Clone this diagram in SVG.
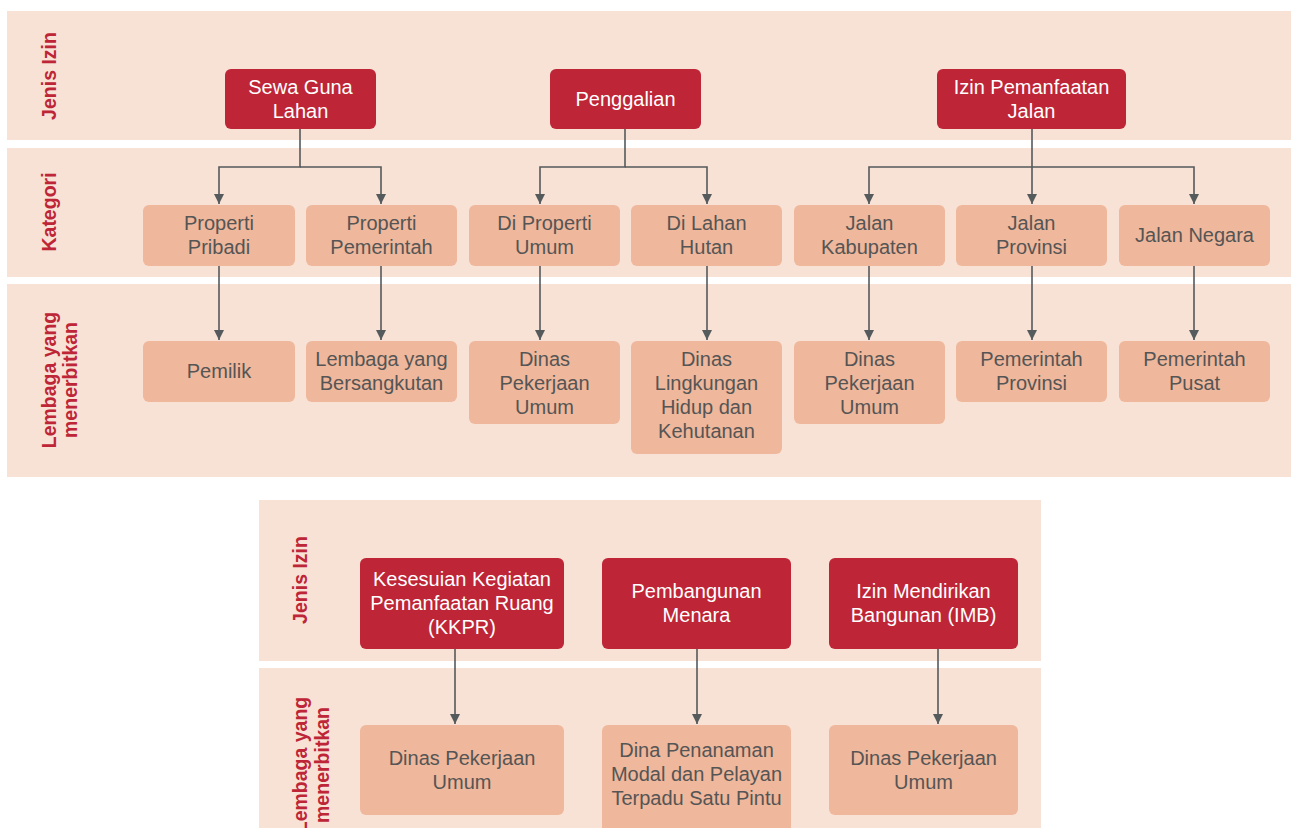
<svg xmlns="http://www.w3.org/2000/svg" width="1291" height="828" viewBox="0 0 1291 828">
<style>
.band{fill:#F7E2D5}
.red rect{fill:#BE2537}
.red text{fill:#FFFFFF}
.light rect{fill:#EFB79B}
.light text{fill:#555555}
text{font-family:"Liberation Sans",Arial,sans-serif;font-size:20px;text-anchor:middle}
.lbl{fill:#BE2537;font-weight:bold;font-size:19.5px}
.conn{fill:none;stroke:#555A5C;stroke-width:1.6}
</style>
<defs>
<marker id="arr" markerUnits="userSpaceOnUse" markerWidth="11" markerHeight="10" refX="10" refY="5" orient="auto" viewBox="0 0 10 10">
<path d="M0,0 L10,5 L0,10 z" fill="#555A5C"/>
</marker>
</defs>
<rect width="1291" height="828" fill="#FFFFFF"/>
<g id="bands">
<rect class="band" x="7" y="11" width="1284" height="129"/>
<rect class="band" x="7" y="148" width="1284" height="129"/>
<rect class="band" x="7" y="284" width="1284" height="193"/>
<rect class="band" x="259" y="500" width="782" height="161"/>
<rect class="band" x="259" y="668" width="782" height="200"/>
</g>
<g id="labels">
<text class="lbl" transform="translate(56,76) rotate(-90)">Jenis Izin</text>
<text class="lbl" transform="translate(56,212) rotate(-90)">Kategori</text>
<text class="lbl" transform="translate(56,380) rotate(-90)">Lembaga yang</text>
<text class="lbl" transform="translate(77,380) rotate(-90)">menerbitkan</text>
<text class="lbl" transform="translate(307,580) rotate(-90)">Jenis Izin</text>
<text class="lbl" transform="translate(307,765) rotate(-90)">Lembaga yang</text>
<text class="lbl" transform="translate(329,765) rotate(-90)">menerbitkan</text>
</g>
<g id="connectors">
<path class="conn" d="M300,129 V167 H219 V204" marker-end="url(#arr)"/>
<path class="conn" d="M300,167 H381 V204" marker-end="url(#arr)"/>
<path class="conn" d="M625,129 V167 H540 V204" marker-end="url(#arr)"/>
<path class="conn" d="M625,167 H707 V204" marker-end="url(#arr)"/>
<path class="conn" d="M1032,129 V204" marker-end="url(#arr)"/>
<path class="conn" d="M1032,167 H869 V204" marker-end="url(#arr)"/>
<path class="conn" d="M1032,167 H1194 V204" marker-end="url(#arr)"/>
<path class="conn" d="M219,266 V340" marker-end="url(#arr)"/>
<path class="conn" d="M381,266 V340" marker-end="url(#arr)"/>
<path class="conn" d="M540,266 V340" marker-end="url(#arr)"/>
<path class="conn" d="M707,266 V340" marker-end="url(#arr)"/>
<path class="conn" d="M869,266 V340" marker-end="url(#arr)"/>
<path class="conn" d="M1032,266 V340" marker-end="url(#arr)"/>
<path class="conn" d="M1194,266 V340" marker-end="url(#arr)"/>
<path class="conn" d="M455,649 V724" marker-end="url(#arr)"/>
<path class="conn" d="M697,649 V724" marker-end="url(#arr)"/>
<path class="conn" d="M938,649 V724" marker-end="url(#arr)"/>
</g>
<g id="n-sewa" class="red"><rect x="225" y="69" width="151" height="60" rx="6"/><text x="300.5" y="94">Sewa Guna</text><text x="300.5" y="118">Lahan</text></g>
<g id="n-penggalian" class="red"><rect x="550" y="69" width="151" height="60" rx="6"/><text x="625.5" y="106">Penggalian</text></g>
<g id="n-ipj" class="red"><rect x="937" y="69" width="189" height="60" rx="6"/><text x="1031.5" y="94">Izin Pemanfaatan</text><text x="1031.5" y="118">Jalan</text></g>

<g id="n-pribadi" class="light"><rect x="143" y="205" width="152" height="61" rx="6"/><text x="219" y="230">Properti</text><text x="219" y="254">Pribadi</text></g>
<g id="n-pemerintah" class="light"><rect x="306" y="205" width="151" height="61" rx="6"/><text x="381.5" y="230">Properti</text><text x="381.5" y="254">Pemerintah</text></g>
<g id="n-diprop" class="light"><rect x="469" y="205" width="151" height="61" rx="6"/><text x="544.5" y="230">Di Properti</text><text x="544.5" y="254">Umum</text></g>
<g id="n-dilahan" class="light"><rect x="631" y="205" width="151" height="61" rx="6"/><text x="706.5" y="230">Di Lahan</text><text x="706.5" y="254">Hutan</text></g>
<g id="n-jkab" class="light"><rect x="794" y="205" width="151" height="61" rx="6"/><text x="869.5" y="230">Jalan</text><text x="869.5" y="254">Kabupaten</text></g>
<g id="n-jprov" class="light"><rect x="956" y="205" width="151" height="61" rx="6"/><text x="1031.5" y="230">Jalan</text><text x="1031.5" y="254">Provinsi</text></g>
<g id="n-jneg" class="light"><rect x="1119" y="205" width="151" height="61" rx="6"/><text x="1194.5" y="242">Jalan Negara</text></g>

<g id="n-pemilik" class="light"><rect x="143" y="341" width="152" height="61" rx="6"/><text x="219" y="378">Pemilik</text></g>
<g id="n-lembaga" class="light"><rect x="306" y="341" width="151" height="61" rx="6"/><text x="381.5" y="366">Lembaga yang</text><text x="381.5" y="390">Bersangkutan</text></g>
<g id="n-dpu1" class="light"><rect x="469" y="341" width="151" height="83" rx="6"/><text x="544.5" y="366">Dinas</text><text x="544.5" y="390">Pekerjaan</text><text x="544.5" y="414">Umum</text></g>
<g id="n-dlhk" class="light"><rect x="631" y="341" width="151" height="113" rx="6"/><text x="706.5" y="366">Dinas</text><text x="706.5" y="390">Lingkungan</text><text x="706.5" y="414">Hidup dan</text><text x="706.5" y="438">Kehutanan</text></g>
<g id="n-dpu2" class="light"><rect x="794" y="341" width="151" height="83" rx="6"/><text x="869.5" y="366">Dinas</text><text x="869.5" y="390">Pekerjaan</text><text x="869.5" y="414">Umum</text></g>
<g id="n-pprov" class="light"><rect x="956" y="341" width="151" height="61" rx="6"/><text x="1031.5" y="366">Pemerintah</text><text x="1031.5" y="390">Provinsi</text></g>
<g id="n-ppusat" class="light"><rect x="1119" y="341" width="151" height="61" rx="6"/><text x="1194.5" y="366">Pemerintah</text><text x="1194.5" y="390">Pusat</text></g>

<g id="n-kkpr" class="red"><rect x="360" y="558" width="204" height="91" rx="6"/><text x="462" y="586">Kesesuian Kegiatan</text><text x="462" y="610">Pemanfaatan Ruang</text><text x="462" y="634">(KKPR)</text></g>
<g id="n-menara" class="red"><rect x="602" y="558" width="189" height="91" rx="6"/><text x="696.5" y="598">Pembangunan</text><text x="696.5" y="622">Menara</text></g>
<g id="n-imb" class="red"><rect x="829" y="558" width="189" height="91" rx="6"/><text x="923.5" y="598">Izin Mendirikan</text><text x="923.5" y="622">Bangunan (IMB)</text></g>

<g id="n-dpu3" class="light"><rect x="360" y="725" width="204" height="90" rx="6"/><text x="462" y="765">Dinas Pekerjaan</text><text x="462" y="789">Umum</text></g>
<g id="n-dpmptsp" class="light"><rect x="602" y="725" width="189" height="125" rx="6"/><text x="696.5" y="757">Dina Penanaman</text><text x="696.5" y="781">Modal dan Pelayan</text><text x="696.5" y="805">Terpadu Satu Pintu</text></g>
<g id="n-dpu4" class="light"><rect x="829" y="725" width="189" height="90" rx="6"/><text x="923.5" y="765">Dinas Pekerjaan</text><text x="923.5" y="789">Umum</text></g>
</svg>
